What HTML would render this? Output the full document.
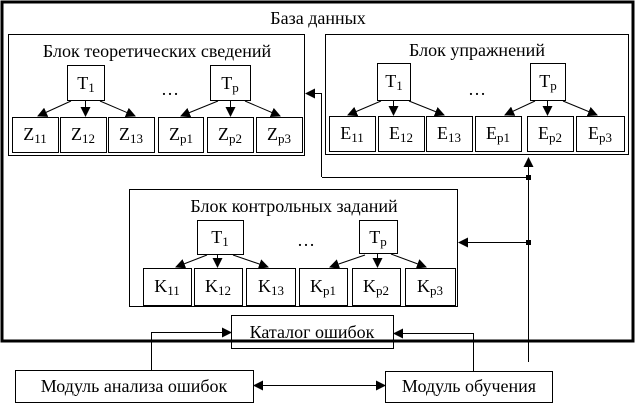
<!DOCTYPE html>
<html><head><meta charset="utf-8"><style>
html,body{margin:0;padding:0;background:#fff;}
svg text{font-family:"Liberation Serif","Times New Roman",Times,"Noto Serif CJK SC","DejaVu Serif",serif;}
</style></head><body>
<svg width="637" height="405" viewBox="0 0 637 405" xmlns="http://www.w3.org/2000/svg">
<defs>
<marker id="a" markerWidth="10" markerHeight="10" refX="9" refY="5" orient="auto" markerUnits="userSpaceOnUse">
<path d="M0,0 L10,5 L0,10 z" fill="#000"/></marker>
</defs>
<g fill="none" stroke="#000">
<rect x="2" y="2" width="631" height="339" stroke-width="3"/>
<rect x="8.5" y="34.5" width="296" height="121"/>
<rect x="325.5" y="34.5" width="303" height="120"/>
<rect x="129.5" y="189.5" width="328" height="117"/>
<rect x="231.5" y="315.5" width="162" height="33"/>
<rect x="15.5" y="370.5" width="238" height="32"/>
<rect x="385.5" y="371.5" width="167" height="31"/>
<rect x="67.5" y="65.5" width="37" height="35"/>
<rect x="210.5" y="65.5" width="40" height="35"/>
<rect x="377.5" y="63.5" width="33" height="37"/>
<rect x="530.5" y="63.5" width="35" height="37"/>
<rect x="197.5" y="220.5" width="46" height="34"/>
<rect x="359.5" y="220.5" width="38" height="33"/>
<rect x="12.5" y="117.5" width="46" height="35"/>
<rect x="60.5" y="117.5" width="46" height="35"/>
<rect x="108.5" y="117.5" width="46" height="35"/>
<rect x="158.5" y="117.5" width="45" height="35"/>
<rect x="207.5" y="117.5" width="46" height="35"/>
<rect x="256.5" y="117.5" width="46" height="35"/>
<rect x="329.5" y="116.5" width="46" height="35"/>
<rect x="378.5" y="116.5" width="46" height="35"/>
<rect x="426.5" y="116.5" width="46" height="35"/>
<rect x="475.5" y="116.5" width="46" height="35"/>
<rect x="527.5" y="116.5" width="46" height="35"/>
<rect x="576.5" y="116.5" width="48" height="35"/>
<rect x="143.5" y="268.5" width="48" height="37"/>
<rect x="194.5" y="268.5" width="48" height="37"/>
<rect x="246.5" y="268.5" width="49" height="37"/>
<rect x="299.5" y="268.5" width="48" height="37"/>
<rect x="352.5" y="268.5" width="48" height="37"/>
<rect x="405.5" y="268.5" width="50" height="37"/>
</g>
<g stroke="#000" stroke-width="1" fill="none" marker-end="url(#a)">
<line x1="71" y1="101" x2="38" y2="116"/>
<line x1="85.5" y1="101" x2="85.5" y2="116"/>
<line x1="100" y1="101" x2="135" y2="116"/>
<line x1="218" y1="101" x2="181" y2="116"/>
<line x1="230.5" y1="101" x2="230.5" y2="116"/>
<line x1="245" y1="101" x2="280" y2="116"/>
<line x1="381" y1="101" x2="348" y2="115"/>
<line x1="393.5" y1="101" x2="393.5" y2="115"/>
<line x1="409" y1="101" x2="444" y2="115"/>
<line x1="535" y1="101" x2="505" y2="115"/>
<line x1="547.5" y1="101" x2="547.5" y2="115"/>
<line x1="563" y1="101" x2="597" y2="115"/>
<line x1="207" y1="255" x2="176" y2="267"/>
<line x1="217.5" y1="255" x2="217.5" y2="267"/>
<line x1="233" y1="255" x2="268" y2="267"/>
<line x1="365" y1="255" x2="330" y2="267"/>
<line x1="377.5" y1="254" x2="377.5" y2="267"/>
<line x1="391" y1="254" x2="426" y2="267"/>
<polyline points="321.5,177 321.5,93.5 306,93.5"/>
<polyline points="528.5,177 528.5,158"/>
<polyline points="528.5,242.5 459,242.5"/>
<polyline points="151.5,370 151.5,332.5 231,332.5"/>
<polyline points="473.5,371 473.5,333.5 394,333.5"/>
<line x1="300" y1="385.5" x2="385" y2="385.5"/>
<line x1="300" y1="385.5" x2="254" y2="385.5"/>
</g>
<g stroke="#000" fill="none">
<line x1="322" y1="177.5" x2="528" y2="177.5"/>
<line x1="528.5" y1="177" x2="528.5" y2="362"/>
</g>
<rect x="526" y="175" width="5" height="5" fill="#000"/>
<rect x="526" y="240" width="5" height="5" fill="#000"/>
<g font-size="18" fill="#000" text-anchor="middle">
<text x="318" y="24">База данных</text>
<text x="157" y="57">Блок теоретических сведений</text>
<text x="477" y="56">Блок упражнений</text>
<text x="294" y="212">Блок контрольных заданий</text>
<text x="312" y="338">Каталог ошибок</text>
<text x="134" y="392">Модуль анализа ошибок</text>
<text x="469" y="392">Модуль обучения</text>
<text x="170" y="95">…</text>
<text x="477" y="95">…</text>
<text x="306" y="246">…</text>
</g>
<g font-size="18" fill="#000" text-anchor="middle">
<text x="86" y="89">T<tspan font-size="13" dy="3">1</tspan></text>
<text x="230" y="89">T<tspan font-size="13" dy="3">p</tspan></text>
<text x="394" y="87">T<tspan font-size="13" dy="3">1</tspan></text>
<text x="548" y="87">T<tspan font-size="13" dy="3">p</tspan></text>
<text x="220" y="243">T<tspan font-size="13" dy="3">1</tspan></text>
<text x="378" y="243">T<tspan font-size="13" dy="3">p</tspan></text>
<text x="35" y="140">Z<tspan font-size="13" dy="3">11</tspan></text>
<text x="83" y="140">Z<tspan font-size="13" dy="3">12</tspan></text>
<text x="131" y="140">Z<tspan font-size="13" dy="3">13</tspan></text>
<text x="181" y="140">Z<tspan font-size="13" dy="3">p1</tspan></text>
<text x="230" y="140">Z<tspan font-size="13" dy="3">p2</tspan></text>
<text x="279" y="140">Z<tspan font-size="13" dy="3">p3</tspan></text>
<text x="352" y="139">E<tspan font-size="13" dy="3">11</tspan></text>
<text x="401" y="139">E<tspan font-size="13" dy="3">12</tspan></text>
<text x="449" y="139">E<tspan font-size="13" dy="3">13</tspan></text>
<text x="498" y="139">E<tspan font-size="13" dy="3">p1</tspan></text>
<text x="550" y="139">E<tspan font-size="13" dy="3">p2</tspan></text>
<text x="600" y="139">E<tspan font-size="13" dy="3">p3</tspan></text>
<text x="167" y="292">K<tspan font-size="13" dy="3">11</tspan></text>
<text x="218" y="292">K<tspan font-size="13" dy="3">12</tspan></text>
<text x="271" y="292">K<tspan font-size="13" dy="3">13</tspan></text>
<text x="323" y="292">K<tspan font-size="13" dy="3">p1</tspan></text>
<text x="376" y="292">K<tspan font-size="13" dy="3">p2</tspan></text>
<text x="430" y="292">K<tspan font-size="13" dy="3">p3</tspan></text>
</g>
</svg>
</body></html>
